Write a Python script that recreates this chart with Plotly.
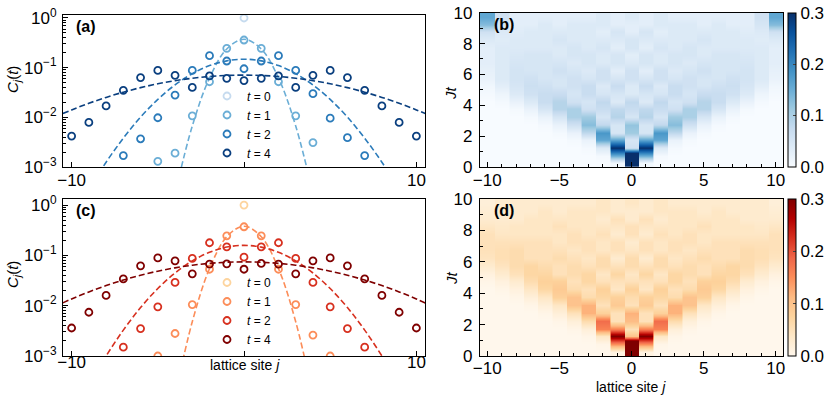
import plotly.graph_objects as go

W, H = 831, 399

# ---- data: scatter panels (a)/(c) ----
sites = list(range(-10, 11))

# panel (a), blue
a_t0 = [None]*10 + [1.0] + [None]*10
a_t1 = [None, None, None, None, None, 0.0013, 0.0019, 0.0107, 0.052, 0.245, 0.36,
        0.245, 0.052, 0.0107, 0.0031, None, None, None, None, None, None]
a_t2 = [None, None, None, 0.0017, 0.0037, 0.0098, 0.028, 0.088, 0.174, 0.136, 0.095,
        0.136, 0.174, 0.088, 0.030, 0.0096, 0.0039, 0.0017, None, None, None]
a_t4 = [0.0042, 0.0079, 0.017, 0.035, 0.063, 0.088, 0.070, 0.040, 0.068, 0.061, 0.055,
        0.061, 0.068, 0.040, 0.070, 0.088, 0.063, 0.035, 0.017, 0.0079, 0.0042]

# panel (c), red
c_t0 = [None]*10 + [1.0] + [None]*10
c_t1 = [None, None, None, None, None, 0.0010, 0.0028, 0.0105, 0.053, 0.245, 0.37,
        0.245, 0.053, 0.0105, 0.0026, 0.0010, None, None, None, None, None]
c_t2 = [None, None, None, 0.0015, 0.0035, 0.0095, 0.029, 0.087, 0.178, 0.148, 0.092,
        0.148, 0.178, 0.087, 0.029, 0.0095, 0.0035, 0.0015, None, None, None]
c_t4 = [0.0036, 0.0074, 0.016, 0.034, 0.062, 0.089, 0.078, 0.043, 0.067, 0.068, 0.053,
        0.069, 0.067, 0.043, 0.078, 0.089, 0.062, 0.034, 0.016, 0.0074, 0.0036]

# dashed fit curves, read at integer sites
fit_sites = list(range(-11, 12))
a_fit1 = [None]*7 + [0.00029, 0.0067, 0.062, 0.238, 0.372, 0.238, 0.062, 0.0067, 0.00029] + [None]*7
a_fit2 = [None, 0.000085, 0.00035, 0.00125, 0.0038, 0.0101, 0.0229, 0.0449, 0.0756, 0.110, 0.137, 0.148,
          0.137, 0.110, 0.0756, 0.0449, 0.0229, 0.0101, 0.0038, 0.00125, 0.00035, 0.000085, None]
a_fit4 = [0.0101, 0.0141, 0.0192, 0.0252, 0.0321, 0.0396, 0.0473, 0.0547, 0.0612, 0.0664, 0.0697, 0.0708,
          0.0697, 0.0664, 0.0612, 0.0547, 0.0473, 0.0396, 0.0321, 0.0252, 0.0192, 0.0141, 0.0101]
c_fit1 = [None]*7 + [0.00016, 0.0048, 0.0545, 0.234, 0.380, 0.234, 0.0545, 0.0048, 0.00016] + [None]*7
c_fit2 = [None, None, 0.00026, 0.0010, 0.00327, 0.00916, 0.0219, 0.0446, 0.0777, 0.115, 0.146, 0.158,
          0.146, 0.115, 0.0777, 0.0446, 0.0219, 0.00916, 0.00327, 0.0010, 0.00026, None, None]
c_fit4 = [0.00957, 0.0136, 0.0188, 0.0251, 0.0323, 0.0403, 0.0485, 0.0565, 0.0637, 0.0693, 0.0729, 0.0741,
          0.0729, 0.0693, 0.0637, 0.0565, 0.0485, 0.0403, 0.0323, 0.0251, 0.0188, 0.0136, 0.00957]

# ---- data: heatmaps (b)/(d), one list per site j = 0..10, rows at Jt = 0.25, 0.75, ..., 9.75 ----
jt_rows = [0.25 + 0.5*k for k in range(20)]
b_cols = [
    [0.90, 0.45, 0.06, 0.05, 0.11, 0.12, 0.05, 0.07, 0.08, 0.04, 0.04, 0.06, 0.06, 0.04, 0.03, 0.05, 0.05, 0.03, 0.03, 0.04],
    [0.01, 0.15, 0.30, 0.16, 0.05, 0.05, 0.09, 0.08, 0.04, 0.05, 0.07, 0.05, 0.03, 0.05, 0.05, 0.03, 0.04, 0.05, 0.03, 0.03],
    [0.00, 0.005, 0.04, 0.16, 0.18, 0.08, 0.05, 0.07, 0.08, 0.05, 0.04, 0.06, 0.06, 0.04, 0.04, 0.05, 0.04, 0.03, 0.04, 0.04],
    [0.00, 0.00, 0.005, 0.02, 0.08, 0.13, 0.11, 0.06, 0.05, 0.07, 0.07, 0.05, 0.04, 0.05, 0.05, 0.04, 0.04, 0.04, 0.04, 0.03],
    [0.00, 0.00, 0.00, 0.005, 0.02, 0.06, 0.10, 0.10, 0.06, 0.05, 0.06, 0.06, 0.05, 0.04, 0.05, 0.05, 0.04, 0.04, 0.04, 0.03],
    [0.00, 0.00, 0.00, 0.00, 0.005, 0.02, 0.05, 0.09, 0.09, 0.07, 0.05, 0.05, 0.06, 0.05, 0.04, 0.04, 0.05, 0.04, 0.03, 0.03],
    [0.00, 0.00, 0.00, 0.00, 0.00, 0.005, 0.02, 0.05, 0.07, 0.07, 0.06, 0.05, 0.05, 0.05, 0.05, 0.04, 0.04, 0.04, 0.04, 0.03],
    [0.00, 0.00, 0.00, 0.00, 0.00, 0.00, 0.005, 0.02, 0.04, 0.06, 0.065, 0.06, 0.05, 0.05, 0.05, 0.04, 0.04, 0.04, 0.03, 0.03],
    [0.00, 0.00, 0.00, 0.00, 0.00, 0.00, 0.00, 0.005, 0.02, 0.04, 0.05, 0.055, 0.055, 0.05, 0.045, 0.04, 0.04, 0.035, 0.03, 0.03],
    [0.00, 0.00, 0.00, 0.00, 0.00, 0.00, 0.00, 0.00, 0.005, 0.015, 0.03, 0.04, 0.04, 0.04, 0.04, 0.04, 0.035, 0.04, 0.05, 0.06],
    [0.00, 0.00, 0.00, 0.00, 0.00, 0.00, 0.00, 0.00, 0.00, 0.005, 0.01, 0.02, 0.025, 0.03, 0.03, 0.03, 0.04, 0.06, 0.13, 0.16],
]
d_cols = [
    [0.90, 0.45, 0.10, 0.05, 0.11, 0.12, 0.05, 0.06, 0.08, 0.05, 0.04, 0.06, 0.06, 0.04, 0.03, 0.05, 0.05, 0.03, 0.03, 0.04],
    [0.01, 0.15, 0.30, 0.16, 0.05, 0.05, 0.09, 0.08, 0.04, 0.05, 0.07, 0.05, 0.03, 0.05, 0.05, 0.03, 0.04, 0.05, 0.03, 0.03],
    [0.00, 0.005, 0.04, 0.16, 0.18, 0.08, 0.05, 0.07, 0.08, 0.05, 0.04, 0.06, 0.06, 0.04, 0.04, 0.05, 0.04, 0.03, 0.04, 0.04],
    [0.00, 0.00, 0.005, 0.02, 0.06, 0.12, 0.12, 0.06, 0.05, 0.07, 0.07, 0.05, 0.04, 0.05, 0.05, 0.04, 0.04, 0.04, 0.04, 0.03],
    [0.00, 0.00, 0.00, 0.005, 0.02, 0.05, 0.10, 0.10, 0.06, 0.05, 0.06, 0.06, 0.05, 0.04, 0.05, 0.05, 0.04, 0.04, 0.04, 0.03],
    [0.00, 0.00, 0.00, 0.00, 0.005, 0.02, 0.04, 0.08, 0.09, 0.08, 0.05, 0.05, 0.06, 0.05, 0.04, 0.04, 0.05, 0.04, 0.03, 0.03],
    [0.00, 0.00, 0.00, 0.00, 0.00, 0.005, 0.02, 0.04, 0.07, 0.08, 0.07, 0.06, 0.05, 0.05, 0.05, 0.04, 0.04, 0.04, 0.04, 0.03],
    [0.00, 0.00, 0.00, 0.00, 0.00, 0.00, 0.005, 0.02, 0.04, 0.06, 0.07, 0.07, 0.05, 0.05, 0.05, 0.04, 0.04, 0.04, 0.03, 0.03],
    [0.00, 0.00, 0.00, 0.00, 0.00, 0.00, 0.00, 0.005, 0.015, 0.03, 0.05, 0.06, 0.06, 0.06, 0.05, 0.04, 0.04, 0.03, 0.03, 0.03],
    [0.00, 0.00, 0.00, 0.00, 0.00, 0.00, 0.00, 0.00, 0.005, 0.015, 0.03, 0.045, 0.055, 0.055, 0.05, 0.04, 0.035, 0.03, 0.03, 0.03],
    [0.00, 0.00, 0.00, 0.00, 0.00, 0.00, 0.00, 0.00, 0.00, 0.005, 0.015, 0.03, 0.045, 0.05, 0.05, 0.05, 0.04, 0.03, 0.025, 0.02],
]

blue_pts = ["#c6dbef", "#6baed6", "#2b7bba", "#0a3f7f"]
red_pts = ["#fdd49e", "#fc8d59", "#d7301f", "#7f0000"]
t_labels = ["0", "1", "2", "4"]

FONT = "Liberation Sans, Arial, sans-serif"


def px_x(p):
    return p / W


def px_y(p):
    return 1 - p / H


# each site is drawn as two narrow columns holding the same value, so that
# zsmooth only blends along Jt and the site columns keep sharp edges
heat_x = []
for j in sites:
    heat_x += [j - 0.45, j + 0.45]


def full_grid(cols):
    z = []
    for r in range(len(jt_rows)):
        row = []
        for j in sites:
            v = cols[abs(j)][r]
            row += [v, v]
        z.append(row)
    return z


fig = go.Figure()

panels = [
    ("x", "y", "legend", blue_pts, [a_t0, a_t1, a_t2, a_t4], [a_fit1, a_fit2, a_fit4]),
    ("x3", "y3", "legend2", red_pts, [c_t0, c_t1, c_t2, c_t4], [c_fit1, c_fit2, c_fit4]),
]
for xa, ya, lg, cols, series, fits in panels:
    for k, fit in enumerate(fits):
        fig.add_trace(go.Scatter(x=fit_sites, y=fit, mode="lines", line_shape="spline",
                                 line=dict(color=cols[k + 1], width=1.6, dash="6px,3px"),
                                 xaxis=xa, yaxis=ya, showlegend=False, hoverinfo="skip"))
    for k, s in enumerate(series):
        fig.add_trace(go.Scatter(x=sites, y=s, mode="markers", name="<i>t</i> = " + t_labels[k],
                                 marker=dict(symbol="circle-open", size=7,
                                             line=dict(color=cols[k], width=1.8), color=cols[k]),
                                 xaxis=xa, yaxis=ya, legend=lg))

cb_common = dict(thickness=8, xanchor="left", x=px_x(788), xpad=0, ypad=0, outlinewidth=1,
                 outlinecolor="black", ticks="inside", ticklen=3, tickvals=[0, 0.1, 0.2, 0.3],
                 tickformat=".1f", tickfont=dict(size=17, family=FONT, color="black"),
                 lenmode="fraction")
fig.add_trace(go.Heatmap(x=heat_x, y=jt_rows, z=full_grid(b_cols), colorscale="Blues",
                         zmin=0, zmax=0.3, zsmooth="best", xaxis="x2", yaxis="y2",
                         colorbar=dict(cb_common, y=(px_y(167) + px_y(12.7)) / 2,
                                       len=(167 - 12.7) / H)))
fig.add_trace(go.Heatmap(x=heat_x, y=jt_rows, z=full_grid(d_cols), colorscale="OrRd",
                         zmin=0, zmax=0.3, zsmooth="best", xaxis="x4", yaxis="y4",
                         colorbar=dict(cb_common, y=(px_y(356) + px_y(199)) / 2,
                                       len=(356 - 199) / H)))

axis_common = dict(showline=True, linecolor="black", linewidth=1.2, mirror=True, ticks="inside",
                   ticklen=5, tickcolor="black", showgrid=False, zeroline=False,
                   tickfont=dict(size=17, family=FONT, color="black"))
decades = [1e-3, 1e-2, 1e-1, 1]
dec_text = ["10<sup>\u22123</sup>", "10<sup>\u22122</sup>", "10<sup>\u22121</sup>", "10<sup>0</sup>"]
minor_log = [m * d for d in [1e-3, 1e-2, 1e-1] for m in range(2, 10)]
log_axis = dict(axis_common, type="log", tickmode="array", tickvals=decades, ticktext=dec_text,
                ticklabelstandoff=2,
                minor=dict(tickmode="array", tickvals=minor_log, ticks="inside", ticklen=3,
                           tickcolor="black"))
left_x = dict(axis_common, range=[-10.5, 10.5], tickmode="array", tickvals=[-10, 0, 10],
              ticktext=["\u221210", "", "10"])
hm_x = dict(axis_common, range=[-10.5, 10.5], tickmode="linear", tick0=0, dtick=5,
            minor=dict(dtick=1, ticks="inside", ticklen=3, tickcolor="black"))
hm_y = dict(axis_common, range=[0, 10], tickmode="linear", tick0=0, dtick=2,
            ticklabelstandoff=3,
            minor=dict(dtick=1, ticks="inside", ticklen=3, tickcolor="black"))

fig.update_layout(
    width=W, height=H, margin=dict(l=0, r=0, t=0, b=0, autoexpand=False),
    paper_bgcolor="white", plot_bgcolor="white",
    font=dict(family=FONT, color="black"),
    xaxis=dict(left_x, domain=[px_x(63), px_x(425)], anchor="y", ticklabelstandoff=-3),
    yaxis=dict(log_axis, domain=[px_y(167), px_y(15)], anchor="x", range=[-3, 0.06]),
    xaxis2=dict(hm_x, domain=[px_x(480), px_x(783)], anchor="y2", ticklabelstandoff=-3),
    yaxis2=dict(hm_y, domain=[px_y(167), px_y(12.7)], anchor="x2"),
    xaxis3=dict(left_x, domain=[px_x(63), px_x(425)], anchor="y3", ticklabelstandoff=-10),
    yaxis3=dict(log_axis, domain=[px_y(356), px_y(199)], anchor="x3", range=[-3, 0.12]),
    xaxis4=dict(hm_x, domain=[px_x(480), px_x(783)], anchor="y4", ticklabelstandoff=-4),
    yaxis4=dict(hm_y, domain=[px_y(356), px_y(199)], anchor="x4"),
    legend=dict(x=px_x(207), y=px_y(124.5), xanchor="left", yanchor="middle",
                bgcolor="rgba(0,0,0,0)", font=dict(size=12, family=FONT), itemwidth=30,
                tracegroupgap=0),
    legend2=dict(x=px_x(207), y=px_y(311), xanchor="left", yanchor="middle",
                 bgcolor="rgba(0,0,0,0)", font=dict(size=12, family=FONT), itemwidth=30,
                 tracegroupgap=0),
)

notes = [
    ("<b>(a)</b>", 74, 26, 0, 16, "left"),
    ("<b>(b)</b>", 492, 25, 0, 16, "left"),
    ("<b>(c)</b>", 74, 210, 0, 16, "left"),
    ("<b>(d)</b>", 492, 210, 0, 16, "left"),
    ("<i>C<sub>j</sub></i>(<i>t</i>)", 13, 80, -90, 15, "center"),
    ("<i>C<sub>j</sub></i>(<i>t</i>)", 13, 275, -90, 15, "center"),
    ("<i>J</i><i>t</i>", 451, 93, -90, 15, "center"),
    ("<i>J</i><i>t</i>", 451, 278, -90, 15, "center"),
    ("lattice site <i>j</i>", 245, 365, 0, 14, "center"),
    ("lattice site <i>j</i>", 631, 387, 0, 14, "center"),
]
for text, x, y, ang, size, anc in notes:
    fig.add_annotation(text=text, x=px_x(x), y=px_y(y), xref="paper", yref="paper",
                       xanchor=anc, yanchor="middle", textangle=ang, showarrow=False,
                       font=dict(size=size, family=FONT, color="black"))

# the page body has a default 8px margin; drop it so the figure sits at the window corner
fig.write_html("out.html", config={"displayModeBar": False},
               post_script="document.body.style.margin='0';")
